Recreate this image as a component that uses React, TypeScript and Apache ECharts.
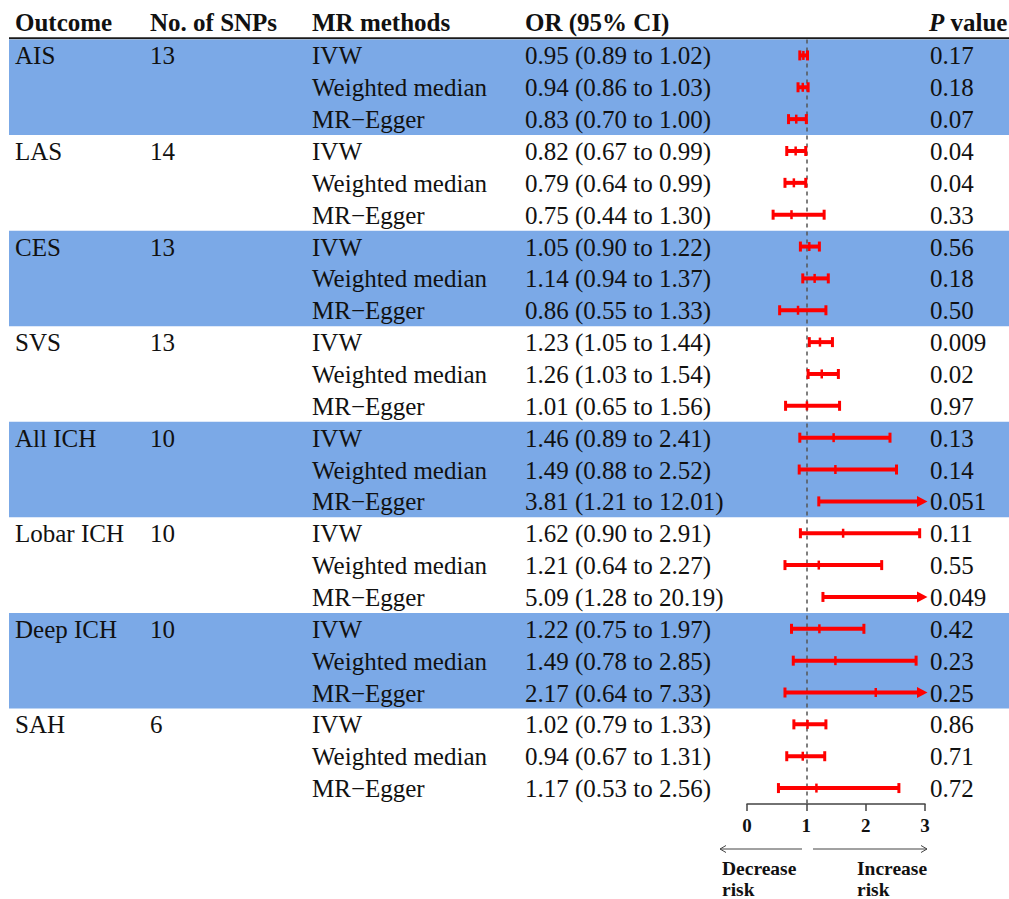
import React, { useEffect, useRef } from 'react';
import * as echarts from 'echarts';

const outcomes = ['AIS', 'LAS', 'CES', 'SVS', 'All ICH', 'Lobar ICH', 'Deep ICH', 'SAH'];
const snpCounts = [13, 14, 13, 13, 10, 10, 10, 6];
const methods = ['IVW', 'Weighted median', 'MR\u2212Egger'];
const orEstimates = [0.95, 0.94, 0.83, 0.82, 0.79, 0.75, 1.05, 1.14, 0.86, 1.23, 1.26, 1.01, 1.46, 1.49, 3.81, 1.62, 1.21, 5.09, 1.22, 1.49, 2.17, 1.02, 0.94, 1.17];
const ciLower = [0.89, 0.86, 0.70, 0.67, 0.64, 0.44, 0.90, 0.94, 0.55, 1.05, 1.03, 0.65, 0.89, 0.88, 1.21, 0.90, 0.64, 1.28, 0.75, 0.78, 0.64, 0.79, 0.67, 0.53];
const ciUpper = [1.02, 1.03, 1.00, 0.99, 0.99, 1.30, 1.22, 1.37, 1.33, 1.44, 1.54, 1.56, 2.41, 2.52, 12.01, 2.91, 2.27, 20.19, 1.97, 2.85, 7.33, 1.33, 1.31, 2.56];
const pValues = ['0.17', '0.18', '0.07', '0.04', '0.04', '0.33', '0.56', '0.18', '0.50', '0.009', '0.02', '0.97', '0.13', '0.14', '0.051', '0.11', '0.55', '0.049', '0.42', '0.23', '0.25', '0.86', '0.71', '0.72'];
const headers = ['Outcome', 'No. of SNPs', 'MR methods', 'OR (95% CI)'];
const xMin = 0;
const xMax = 3;
const xInterval = 1;

const RED = '#FF0000';
const BAND = '#7BA9E7';
const TEXT = '#111111';
const FONT = '"Liberation Serif", "Times New Roman", serif';

export default function App() {
  const ref = useRef<HTMLDivElement>(null);

  useEffect(() => {
    if (!ref.current) return;
    const chart = echarts.init(ref.current, undefined, { renderer: 'svg' });
    const n = orEstimates.length;
    const rowIds = Array.from({ length: n }, (_, i) => String(i));
    const bandGroups = outcomes
      .map((_, g) => [g * 3, g * 3 + 2])
      .filter((_, g) => g % 2 === 0);
    const fmt = (v: number) => v.toFixed(2);
    const rowTexts = rowIds.map((_, i) => {
      const g = Math.floor(i / 3);
      const m = i % 3;
      return {
        outcome: m === 0 ? outcomes[g] : '',
        snp: m === 0 ? String(snpCounts[g]) : '',
        method: methods[m],
        or: `${fmt(orEstimates[i])} (${fmt(ciLower[i])} to ${fmt(ciUpper[i])})`,
        p: pValues[i],
      };
    });
    const colX = [15, 150, 312, 525, 930];
    const tableFont = 25;

    const option: any = {
      animation: false,
      grid: [
        { left: 747, width: 178, top: 39.5, height: 764.5 },
        { left: 9, right: 0, top: 39.5, height: 764.5 },
      ],
      xAxis: [
        {
          gridIndex: 0,
          type: 'value',
          min: xMin,
          max: xMax,
          interval: xInterval,
          axisLine: { show: true, lineStyle: { color: '#444', width: 1.5 } },
          axisTick: { show: true, length: 7, lineStyle: { color: '#444', width: 1.5 } },
          axisLabel: { fontSize: 19, fontWeight: 'bold', fontFamily: FONT, color: TEXT, margin: 12 },
          splitLine: { show: false },
        },
        { gridIndex: 1, type: 'value', min: 0, max: 1, show: false },
      ],
      yAxis: [
        { gridIndex: 0, type: 'category', data: rowIds, inverse: true, show: false },
        { gridIndex: 1, type: 'category', data: rowIds, inverse: true, show: false },
      ],
      series: [
        {
          type: 'custom',
          xAxisIndex: 1,
          yAxisIndex: 1,
          data: bandGroups,
          encode: { y: [0, 1] },
          clip: false,
          silent: true,
          z: 0,
          renderItem: (params: any, api: any) => {
            const r0 = api.value(0);
            const r1 = api.value(1);
            const h = api.size([0, 1])[1];
            const p0 = api.coord([0, r0]);
            const p1 = api.coord([1, r1]);
            return {
              type: 'rect',
              shape: { x: p0[0], y: p0[1] - h / 2, width: p1[0] - p0[0], height: p1[1] - p0[1] + h },
              style: { fill: BAND },
            };
          },
        },
        {
          type: 'custom',
          xAxisIndex: 1,
          yAxisIndex: 1,
          data: rowIds.map((_, i) => [0, i]),
          encode: { x: 0, y: 1 },
          clip: false,
          silent: true,
          z: 2,
          renderItem: (params: any, api: any) => {
            const i = api.value(1);
            const y = api.coord([0, i])[1] + 0.5;
            const t = rowTexts[i];
            const vals = [t.outcome, t.snp, t.method, t.or, t.p];
            return {
              type: 'group',
              children: vals.map((s, k) => ({
                type: 'text',
                style: {
                  text: s,
                  x: colX[k],
                  y,
                  fill: TEXT,
                  fontSize: tableFont,
                  fontFamily: FONT,
                  verticalAlign: 'middle',
                  align: 'left',
                },
              })),
            };
          },
        },
        {
          type: 'custom',
          xAxisIndex: 0,
          yAxisIndex: 0,
          data: rowIds.map((_, i) => [i, orEstimates[i], ciLower[i], ciUpper[i]]),
          encode: { y: 0, x: [1, 2, 3] },
          clip: false,
          silent: true,
          z: 3,
          renderItem: (params: any, api: any) => {
            const row = api.value(0);
            const est = api.value(1);
            const lo = api.value(2);
            const hi = api.value(3);
            const pLo = api.coord([lo, row]);
            const y = pLo[1];
            const over = hi > xMax;
            const pHi = api.coord([over ? xMax : hi, row]);
            const children: any[] = [];
            const lineEnd = over ? pHi[0] - 7 : pHi[0];
            children.push({
              type: 'line',
              shape: { x1: pLo[0], y1: y, x2: lineEnd, y2: y },
              style: { stroke: RED, lineWidth: 4 },
            });
            children.push({
              type: 'line',
              shape: { x1: pLo[0], y1: y - 5, x2: pLo[0], y2: y + 5 },
              style: { stroke: RED, lineWidth: 3 },
            });
            if (!over) {
              children.push({
                type: 'line',
                shape: { x1: pHi[0], y1: y - 5, x2: pHi[0], y2: y + 5 },
                style: { stroke: RED, lineWidth: 3 },
              });
            } else {
              children.push({
                type: 'polygon',
                shape: { points: [[pHi[0] - 8, y - 5.5], [pHi[0] + 2.5, y], [pHi[0] - 8, y + 5.5]] },
                style: { fill: RED },
              });
            }
            if (est <= xMax) {
              const xe = api.coord([est, row])[0];
              children.push({
                type: 'line',
                shape: { x1: xe, y1: y - 4.5, x2: xe, y2: y + 4.5 },
                style: { stroke: RED, lineWidth: 2.5 },
              });
            }
            return { type: 'group', children };
          },
          markLine: {
            silent: true,
            symbol: ['none', 'none'],
            label: { show: false },
            lineStyle: { type: [4, 4], color: '#555', width: 1.5 },
            data: [{ xAxis: 1 }],
            z: 1,
          },
        },
      ],
      graphic: [
        ...headers.map((h, k) => ({
          type: 'text',
          x: colX[k],
          y: 22.5,
          style: {
            text: h,
            fill: TEXT,
            fontSize: tableFont,
            fontWeight: 'bold',
            fontFamily: FONT,
            verticalAlign: 'middle',
            align: 'left',
          },
        })),
        {
          type: 'text',
          x: colX[4] - 1,
          y: 22.5,
          style: {
            text: '{i|P}{b| value}',
            fill: TEXT,
            fontSize: tableFont,
            fontWeight: 'bold',
            fontFamily: FONT,
            verticalAlign: 'middle',
            align: 'left',
            rich: {
              i: { fontStyle: 'italic', fontWeight: 'bold', fontSize: tableFont, fontFamily: FONT, fill: TEXT },
              b: { fontWeight: 'bold', fontSize: tableFont, fontFamily: FONT, fill: TEXT },
            },
          },
        },
        {
          type: 'line',
          shape: { x1: 9, y1: 38.3, x2: 1009, y2: 38.3 },
          style: { stroke: '#1a1a1a', lineWidth: 2 },
        },
        {
          type: 'line',
          shape: { x1: 720, y1: 849, x2: 802, y2: 849 },
          style: { stroke: '#444', lineWidth: 1 },
        },
        {
          type: 'polyline',
          shape: { points: [[726, 845.5], [720, 849], [726, 852.5]] },
          style: { stroke: '#444', lineWidth: 1, fill: 'none' },
        },
        {
          type: 'line',
          shape: { x1: 813, y1: 849, x2: 927, y2: 849 },
          style: { stroke: '#444', lineWidth: 1 },
        },
        {
          type: 'polyline',
          shape: { points: [[921, 845.5], [927, 849], [921, 852.5]] },
          style: { stroke: '#444', lineWidth: 1, fill: 'none' },
        },
        ...[
          ['Decrease', 722, 868],
          ['risk', 722, 889],
          ['Increase', 857, 868],
          ['risk', 857, 889],
        ].map(([t, x, y]) => ({
          type: 'text',
          x,
          y,
          style: {
            text: t,
            fill: TEXT,
            fontSize: 19.5,
            fontWeight: 'bold',
            fontFamily: FONT,
            verticalAlign: 'middle',
            align: 'left',
          },
        })),
      ],
    };

    chart.setOption(option);
    return () => chart.dispose();
  }, []);

  return (
    <div
      ref={ref}
      style={{ position: 'absolute', left: 0, top: 0, width: 1009, height: 899, background: '#fff' }}
    />
  );
}
